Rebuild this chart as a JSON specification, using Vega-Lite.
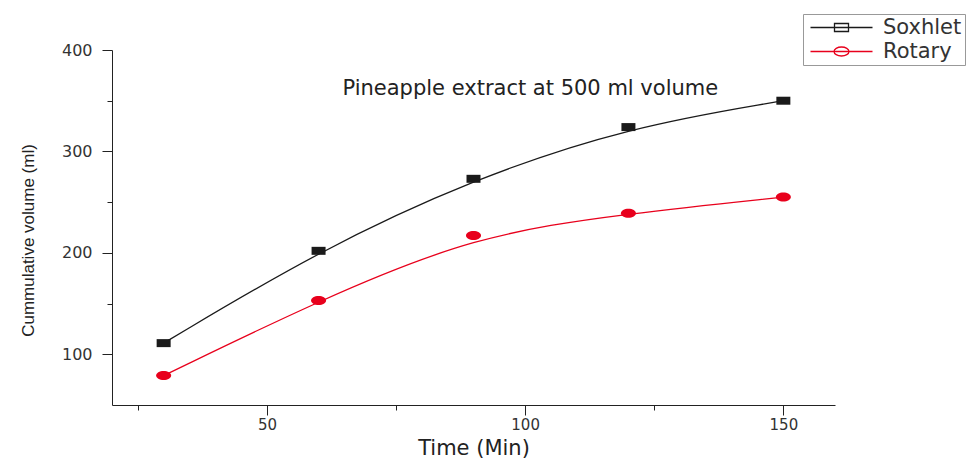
{
  "$schema": "https://vega.github.io/schema/vega-lite/v6.json",
  "width": 723,
  "height": 355,
  "autosize": {"type": "none"},
  "padding": {"left": 112, "top": 50, "right": 136, "bottom": 54},
  "background": "white",
  "config": {
    "view": {"stroke": null},
    "font": "DejaVu Sans"
  },
  "datasets": {
    "runs": [
      {"method": "Soxhlet", "time": 30, "volume": 111},
      {"method": "Soxhlet", "time": 60, "volume": 202},
      {"method": "Soxhlet", "time": 90, "volume": 273},
      {"method": "Soxhlet", "time": 120, "volume": 324},
      {"method": "Soxhlet", "time": 150, "volume": 350},
      {"method": "Rotary", "time": 30, "volume": 79},
      {"method": "Rotary", "time": 60, "volume": 153},
      {"method": "Rotary", "time": 90, "volume": 217},
      {"method": "Rotary", "time": 120, "volume": 239},
      {"method": "Rotary", "time": 150, "volume": 255}
    ],
    "notes": [
      {"label": "Pineapple extract at 500 ml volume", "time": 101, "volume": 356}
    ]
  },
  "layer": [
    {
      "data": {"name": "runs"},
      "transform": [{"filter": "datum.method === 'Soxhlet'"}],
      "mark": {"type": "line", "interpolate": "basis", "strokeWidth": 1.3, "color": "#1a1a1a"},
      "encoding": {
        "x": {
          "field": "time",
          "type": "quantitative",
          "scale": {"domain": [20, 160], "nice": false, "zero": false},
          "axis": {
            "title": "Time (Min)",
            "values": [25, 50, 75, 100, 125, 150],
            "labelExpr": "datum.value % 50 === 0 ? datum.label : ''",
            "tickSize": {"condition": {"test": "datum.value % 50 === 0", "value": 10}, "value": 5},
            "grid": false,
            "domainColor": "#222",
            "tickColor": "#222",
            "labelFont": "DejaVu Sans",
            "labelFontSize": 15,
            "labelColor": "#333",
            "labelPadding": 2,
            "labelFlush": false,
            "titleFont": "DejaVu Sans",
            "titleFontSize": 21,
            "titleFontWeight": "normal",
            "titleColor": "#222",
            "titlePadding": 5
          }
        },
        "y": {
          "field": "volume",
          "type": "quantitative",
          "scale": {"domain": [50, 400], "nice": false, "zero": false},
          "axis": {
            "title": "Cummulative volume (ml)",
            "titleY": 190,
            "values": [100, 150, 200, 250, 300, 350, 400],
            "labelExpr": "datum.value % 100 === 0 ? datum.label : ''",
            "tickSize": {"condition": {"test": "datum.value % 100 === 0", "value": 10}, "value": 5},
            "grid": false,
            "domainColor": "#222",
            "tickColor": "#222",
            "labelFont": "DejaVu Sans",
            "labelFontSize": 16,
            "labelColor": "#333",
            "labelPadding": 10,
            "labelFlush": false,
            "titleFont": "Liberation Sans",
            "titleFontSize": 17,
            "titleFontWeight": "normal",
            "titleColor": "#222",
            "titlePadding": 24
          }
        }
      }
    },
    {
      "data": {"name": "runs"},
      "transform": [{"filter": "datum.method === 'Rotary'"}],
      "mark": {"type": "line", "interpolate": "basis", "strokeWidth": 1.3, "color": "#e8001c"},
      "encoding": {
        "x": {"field": "time", "type": "quantitative"},
        "y": {"field": "volume", "type": "quantitative"}
      }
    },
    {
      "data": {"name": "runs"},
      "transform": [{"filter": "datum.method === 'Soxhlet'"}],
      "mark": {"type": "point", "filled": true, "opacity": 1, "size": 100, "color": "#1a1a1a", "shape": "M-1.4,-0.8H1.4V0.8H-1.4Z"},
      "encoding": {
        "x": {"field": "time", "type": "quantitative"},
        "y": {"field": "volume", "type": "quantitative"}
      }
    },
    {
      "data": {"name": "runs"},
      "transform": [{"filter": "datum.method === 'Rotary'"}],
      "mark": {"type": "point", "filled": true, "opacity": 1, "size": 100, "color": "#e8001c", "shape": "M-1.5,0A1.5,0.9 0 1,0 1.5,0A1.5,0.9 0 1,0 -1.5,0Z"},
      "encoding": {
        "x": {"field": "time", "type": "quantitative"},
        "y": {"field": "volume", "type": "quantitative"}
      }
    },
    {
      "data": {"name": "runs"},
      "mark": {"type": "point", "filled": true, "opacity": 0, "size": 100, "strokeWidth": 1.3},
      "encoding": {
        "x": {"field": "time", "type": "quantitative"},
        "y": {"field": "volume", "type": "quantitative"},
        "fill": {
          "field": "method",
          "type": "nominal",
          "scale": {"domain": ["Soxhlet", "Rotary"], "range": ["#1a1a1a", "#e8001c"]},
          "legend": {
            "title": null,
            "orient": "none",
            "legendX": 691,
            "legendY": -36,
            "padding": 3,
            "strokeColor": "#999",
            "fillColor": "white",
            "symbolSize": 100,
            "symbolOffset": 25,
            "symbolStrokeWidth": 1.3,
            "symbolOpacity": 1,
            "labelOffset": 31,
            "labelFont": "DejaVu Sans",
            "labelFontSize": 21,
            "labelColor": "#333",
            "rowPadding": 2
          }
        },
        "stroke": {
          "field": "method",
          "type": "nominal",
          "scale": {"domain": ["Soxhlet", "Rotary"], "range": ["#1a1a1a", "#e8001c"]}
        },
        "shape": {
          "field": "method",
          "type": "nominal",
          "scale": {
            "domain": ["Soxhlet", "Rotary"],
            "range": [
              "M-6.2,0H6.2M-1.4,-0.8H1.4V0.8H-1.4Z",
              "M-6.2,0H6.2M-1.5,0A1.5,0.9 0 1,0 1.5,0A1.5,0.9 0 1,0 -1.5,0Z"
            ]
          }
        }
      }
    },
    {
      "data": {"name": "notes"},
      "mark": {
        "type": "text",
        "font": "DejaVu Sans",
        "fontSize": 21,
        "color": "#222",
        "align": "center",
        "baseline": "alphabetic"
      },
      "encoding": {
        "x": {"field": "time", "type": "quantitative"},
        "y": {"field": "volume", "type": "quantitative"},
        "text": {"field": "label"}
      }
    }
  ]
}
